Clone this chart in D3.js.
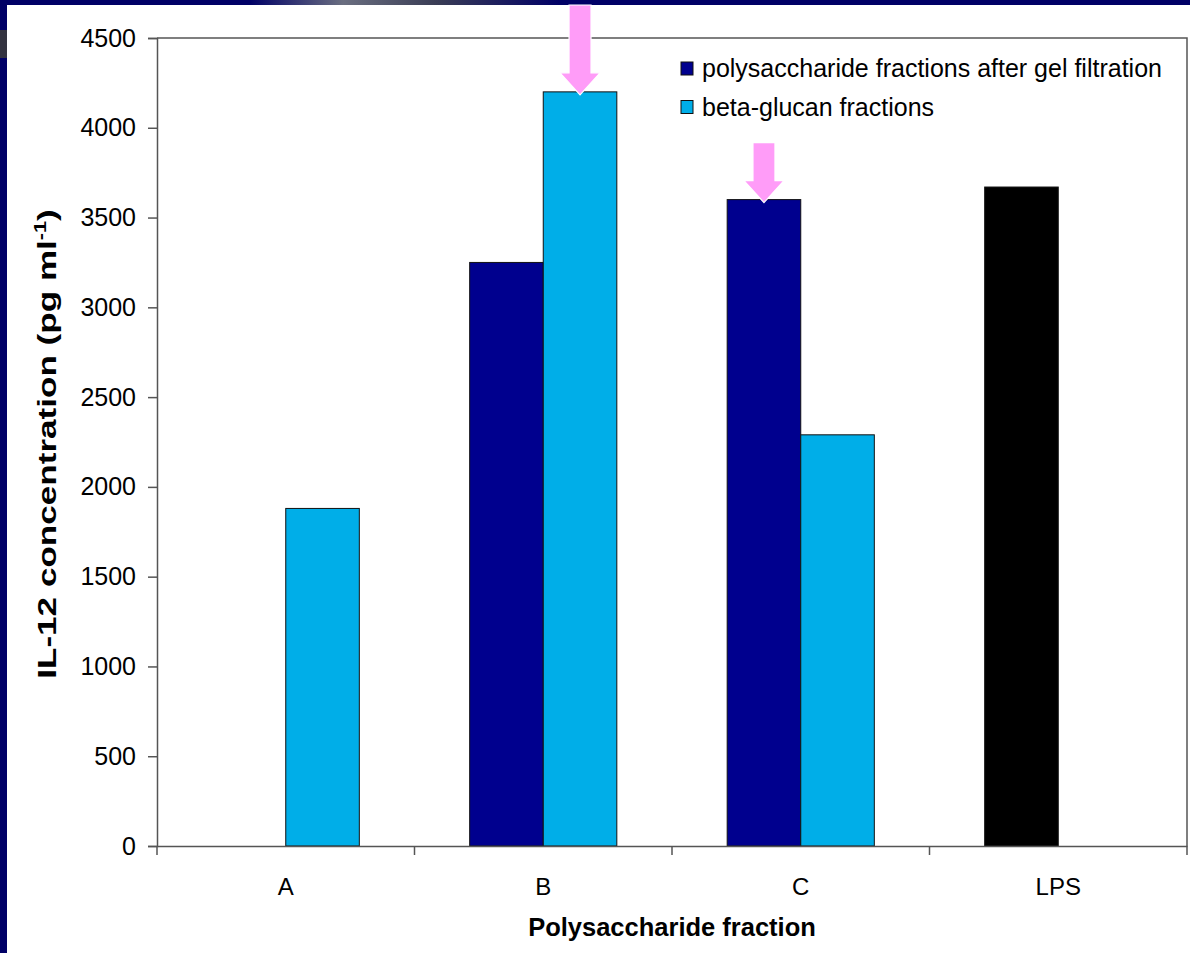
<!DOCTYPE html>
<html>
<head>
<meta charset="utf-8">
<script src="https://cdn.jsdelivr.net/npm/d3@7"></script>
<style>
  html, body { margin: 0; padding: 0; background: #000066; }
  svg { display: block; }
  text { font-family: "Liberation Sans", Arial, sans-serif; fill: #000; }
</style>
</head>
<body>
<svg id="chart" width="1190" height="953"></svg>
<script>
// ---- data ----
const categories = ["A", "B", "C", "LPS"];
const seriesNames = ["polysaccharide fractions after gel filtration", "beta-glucan fractions"];
const polyValues = [0, 3250, 3600, 3670];
const betaValues = [1880, 4200, 2290, 0];
const yTicks = [0, 500, 1000, 1500, 2000, 2500, 3000, 3500, 4000, 4500];
const highlighted = [ {cat: "B", series: 1}, {cat: "C", series: 0} ];

const colors = ["#00008e", "#00aee8"];
const lpsColor = "#000000";

const svg = d3.select("#chart");
const W = 1190, H = 953;

// slide background
svg.append("rect").attr("x", 0).attr("y", 0).attr("width", W).attr("height", H).attr("fill", "#000066");
const grad = svg.append("defs").append("linearGradient").attr("id", "topg").attr("x1", 0).attr("x2", 1);
grad.append("stop").attr("offset", 0).attr("stop-color", "#000066");
grad.append("stop").attr("offset", 0.3).attr("stop-color", "#6a6e80");
grad.append("stop").attr("offset", 0.6).attr("stop-color", "#3a3d55");
grad.append("stop").attr("offset", 1).attr("stop-color", "#000066");
svg.append("path").attr("d", "M250,0 L560,0 L560,5 L250,5 Z").attr("fill", "url(#topg)");
svg.append("rect").attr("x", 0).attr("y", 30).attr("width", 7).attr("height", 28).attr("fill", "#333340");
// white chart area
svg.append("rect").attr("x", 7).attr("y", 5).attr("width", W - 7).attr("height", H - 5).attr("fill", "#ffffff");

const m = {left: 157, right: 1187, top: 38, bottom: 846};

const x = d3.scaleBand().domain(categories).range([m.left, m.right]).paddingInner(0).paddingOuter(0);
const y = d3.scaleLinear().domain([0, 4500]).range([m.bottom, m.top]);
// Excel style: 2 bars + gap width 150%
const barW = x.bandwidth() / 3.5;
const xs = d3.scaleBand().domain([0, 1]).range([x.bandwidth() / 2 - barW, x.bandwidth() / 2 + barW]).padding(0);

// frame (top & right)
svg.append("path")
  .attr("d", `M${m.left},${m.top} L${m.right},${m.top} L${m.right},${m.bottom}`)
  .attr("fill", "none").attr("stroke", "#555").attr("stroke-width", 1.5);

// bars
const barData = [];
categories.forEach((c, i) => {
  [polyValues[i], betaValues[i]].forEach((v, s) => {
    if (v > 0) barData.push({cat: c, s: s, v: v});
  });
});
svg.append("g").selectAll("rect").data(barData).join("rect")
  .attr("x", d => x(d.cat) + xs(d.s))
  .attr("width", xs.bandwidth())
  .attr("y", d => y(d.v))
  .attr("height", d => y(0) - y(d.v))
  .attr("fill", d => d.cat === "LPS" ? lpsColor : colors[d.s])
  .attr("stroke", "#111").attr("stroke-width", 1);

// y axis
const yAxis = svg.append("g").attr("transform", `translate(${m.left},0)`)
  .call(d3.axisLeft(y).tickValues(yTicks).tickSize(9).tickPadding(12).tickFormat(d3.format("d")));
yAxis.attr("font-size", null).attr("font-family", null);
yAxis.select(".domain").attr("stroke", "#555").attr("stroke-width", 1.5);
yAxis.selectAll(".tick line").attr("stroke", "#555").attr("stroke-width", 1.5);
yAxis.selectAll("text").style("font-size", "25px").attr("fill", "#000");

// x axis
const xAxis = svg.append("g").attr("transform", `translate(0,${m.bottom})`)
  .call(d3.axisBottom(x).tickSize(0).tickPadding(32));
xAxis.attr("font-size", null).attr("font-family", null);
xAxis.select(".domain").attr("stroke", "#555").attr("stroke-width", 1.5);
xAxis.selectAll("text").style("font-size", "24px").attr("fill", "#000");
// tick marks at band boundaries
const bounds = categories.map(c => x(c)).concat([m.right]);
svg.append("g").selectAll("line").data(bounds).join("line")
  .attr("x1", d => d).attr("x2", d => d)
  .attr("y1", m.bottom).attr("y2", m.bottom + 9)
  .attr("stroke", "#555").attr("stroke-width", 1.5);

// axis titles
svg.append("text").attr("x", (m.left + m.right) / 2).attr("y", 936)
  .attr("text-anchor", "middle").style("font-size", "25.5px").attr("font-weight", "bold")
  .text("Polysaccharide fraction");
const yt = svg.append("text")
  .attr("transform", `translate(56,${(m.top + m.bottom) / 2 + 2}) rotate(-90) scale(1.35,1)`)
  .attr("text-anchor", "middle").style("font-size", "26px").attr("font-weight", "bold");
yt.append("tspan").text("IL-12 concentration (pg ml");
yt.append("tspan").style("font-size", "16px").attr("dy", -10).text("-1");
yt.append("tspan").attr("dy", 10).text(")");

// legend
const lg = svg.append("g").attr("transform", "translate(681,62)");
seriesNames.forEach((n, i) => {
  const g = lg.append("g").attr("transform", `translate(0,${i * 38.5})`);
  g.append("rect").attr("width", 12).attr("height", 13).attr("fill", colors[i]).attr("stroke", "#111").attr("stroke-width", 1);
  g.append("text").attr("x", 21).attr("y", 15).style("font-size", "25px").text(n);
});

// pink arrows pointing at highlighted bars
highlighted.forEach(h => {
  const ci = categories.indexOf(h.cat);
  const v = h.series === 0 ? polyValues[ci] : betaValues[ci];
  const cx = x(h.cat) + xs(h.series) + xs.bandwidth() / 2;
  const tip = y(v) + 3;
  const shaftTop = h.cat === "B" ? 5 : tip - 60;
  const headTop = tip - 22;
  const sw = 11, hw = 20;
  svg.append("path")
    .attr("d", `M${cx - sw},${shaftTop} L${cx + sw},${shaftTop} L${cx + sw},${headTop} L${cx + hw},${headTop} L${cx},${tip} L${cx - hw},${headTop} L${cx - sw},${headTop} Z`)
    .attr("fill", "#ff9cf8").attr("stroke", "#ffffff").attr("stroke-width", 1.2);
});
</script>
</body>
</html>
